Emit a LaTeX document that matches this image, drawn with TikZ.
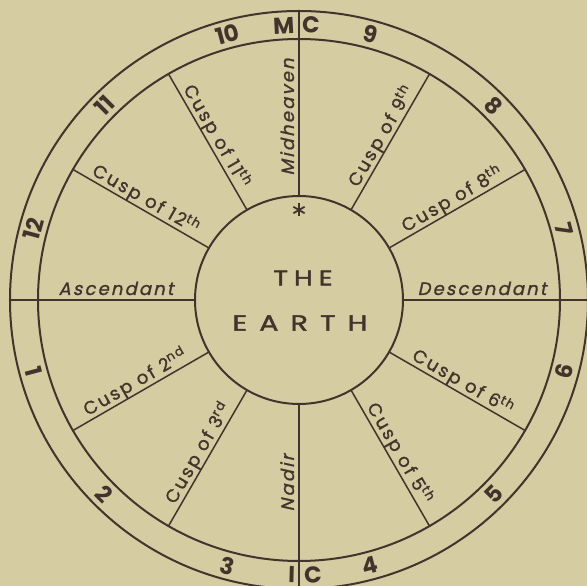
\documentclass[tikz,border=0pt]{standalone}
\usepackage{fontspec}
\setmainfont{Poppins}
\newfontfamily\labfont[LetterSpace=12,FakeBold=1.2]{Poppins}
\newfontfamily\labitfont[LetterSpace=12,FakeSlant=0.22,FakeBold=1.2]{Poppins}
\newfontfamily\earthfont[LetterSpace=55,FakeStretch=1.3,FakeBold=1.8]{Poppins}
\newfontfamily\thefont[LetterSpace=28,FakeStretch=1.3,FakeBold=1.8]{Poppins}
\definecolor{bgc}{RGB}{214,204,162}
\definecolor{inkc}{RGB}{66,52,44}
\tikzset{
  ring/.style={draw=inkc, line width=2pt},
  spoke/.style={draw=inkc, line width=1.5pt},
  lab/.style={text=inkc, font=\labfont\fontsize{18}{18}\selectfont, inner sep=0pt, anchor=base},
  itlab/.style={lab, font=\labitfont\fontsize{18}{18}\selectfont},
  num/.style={text=inkc, font=\bfseries\fontsize{23}{23}\selectfont, inner sep=0pt},
  earthtxt/.style={text=inkc, font=\earthfont\fontsize{22}{22}\selectfont, inner sep=0pt},
  thetxt/.style={text=inkc, font=\thefont\fontsize{21}{21}\selectfont, inner sep=0pt},
}
\newcommand\hlab[5]{\node[#5, rotate=#2] (#1) at ([shift={(#2+90:5)}]#3:183) {#4};}
\begin{document}
\begin{tikzpicture}[x=1pt,y=1pt]
\fill[bgc] (-299,-286) rectangle (288,300);
\useasboundingbox (-299,-286) rectangle (288,300);
\coordinate (O) at (0,0);
% circles
\draw[ring] (O) circle (289);
\draw[ring] (O) circle (261);
\draw[ring] (O) circle (104);
% spokes
\foreach \a in {30,60,120,150,210,240,300,330}
  \draw[spoke] (\a:104) -- (\a:261);
\foreach \a in {0,90,180,270}
  \draw[spoke] (\a:104) -- (\a:289);
% house labels
\hlab{asc}{0}{180}{Ascendant}{itlab}
\hlab{desc}{0}{0}{Descendant}{itlab}
\hlab{mid}{90}{90}{Midheaven}{itlab}
\hlab{nad}{90}{270}{Nadir}{itlab}
\hlab{c12}{-30}{150}{Cusp of 12\textsuperscript{th}}{lab}
\hlab{c11}{-60}{120}{Cusp of 11\textsuperscript{th}}{lab}
\hlab{c9}{60}{60}{Cusp of 9\textsuperscript{th}}{lab}
\hlab{c8}{30}{30}{Cusp of 8\textsuperscript{th}}{lab}
\hlab{c2}{30}{210}{Cusp of 2\textsuperscript{nd}}{lab}
\hlab{c3}{60}{240}{Cusp of 3\textsuperscript{rd}}{lab}
\hlab{c5}{-60}{300}{Cusp of 5\textsuperscript{th}}{lab}
\hlab{c6}{-30}{330}{Cusp of 6\textsuperscript{th}}{lab}
% house numbers
\node[num, rotate=15]  (n10) at (105:275) {10};
\node[num, rotate=-15] (n9)  at (75:275) {9};
\node[num, rotate=-45] (n8)  at (45:275) {8};
\node[num, rotate=-75] (n7)  at (15:275) {7};
\node[num, rotate=75]  (n6)  at (345:275) {6};
\node[num, rotate=45]  (n5)  at (315:275) {5};
\node[num, rotate=15]  (n4)  at (285:275) {4};
\node[num, rotate=-15] (n3)  at (255:275) {3};
\node[num, rotate=-45] (n2)  at (225:275) {2};
\node[num, rotate=-75] (n1)  at (195:275) {1};
\node[num, rotate=75]  (n12) at (165:275) {12};
\node[num, rotate=45]  (n11) at (135:275) {11};
\node[num, rotate=3]   (mcM) at (93.2:275) {M};
\node[num, rotate=-2.5](mcC) at (87.5:275) {C};
\node[num, rotate=-1.5](icI) at (268.5:275) {I};
\node[num, rotate=3]   (icC) at (272.9:275) {C};
% centre text
\node[thetxt] (the) at (4,22) {THE};
\node[earthtxt] (earth) at (1,-23) {EARTH};
% asterisk
\coordinate (star) at (0,90);
\foreach \b in {90,30,150}
  \draw[draw=inkc, line width=1.8pt] ([shift={(\b:6.5)}]star) -- ([shift={(\b+180:6.5)}]star);
\end{tikzpicture}
\end{document}
